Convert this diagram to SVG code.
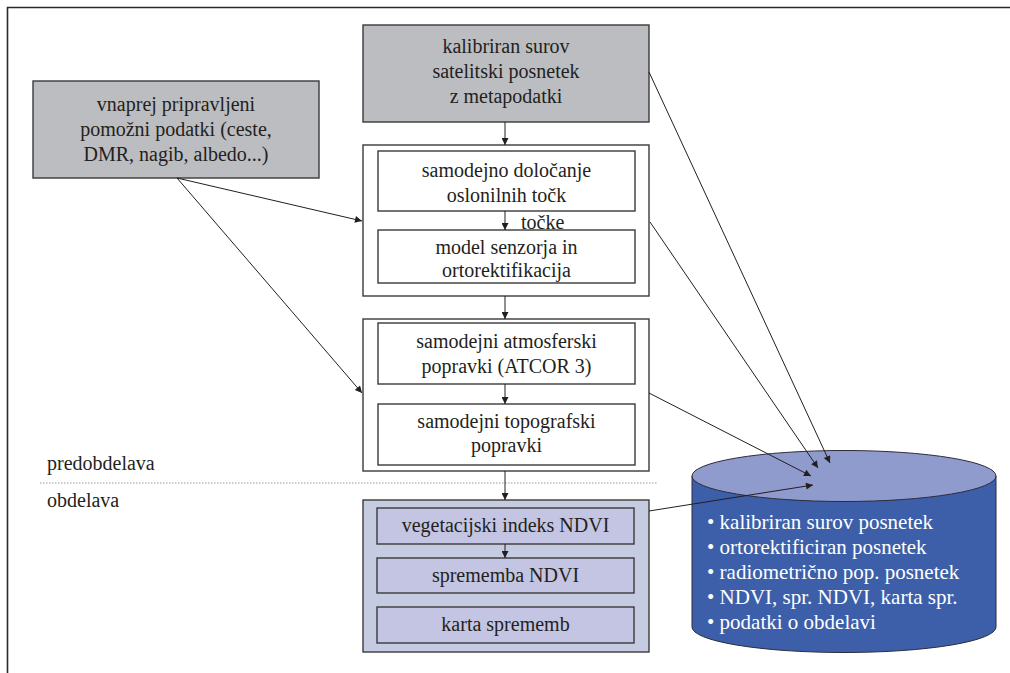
<svg xmlns="http://www.w3.org/2000/svg" width="1010" height="673" viewBox="0 0 1010 673" font-family="'Liberation Serif', 'DejaVu Serif', serif">
<style>
text{font-family:'Liberation Serif','DejaVu Serif',serif}
.t{font-size:20px;fill:#231f20;text-anchor:middle}
.l{text-anchor:start}
.w{fill:#ffffff;text-anchor:start;font-size:21px}
.gray{fill:#bcbdc0;stroke:#3a3a3a;stroke-width:1.4}
.white{fill:#ffffff;stroke:#3a3a3a;stroke-width:1.4}
.blo{fill:#c5cbe0;stroke:#3a3a3a;stroke-width:1.4}
.bli{fill:#c4c5e3;stroke:#3a3a3a;stroke-width:1.4}
.c{stroke:#231f20;stroke-width:1;fill:none;marker-end:url(#ah)}
</style>
<defs>
<marker id="ah" viewBox="0 0 10 10" refX="10" refY="5" markerWidth="9" markerHeight="7" markerUnits="userSpaceOnUse" orient="auto">
<path d="M0,0 L10,5 L0,10 Z" fill="#231f20"/>
</marker>
</defs>
<rect width="1010" height="673" fill="#ffffff"/>
<path d="M7.5,673 L7.5,7.5 L1010,7.5" fill="none" stroke="#2a2a2a" stroke-width="1.6"/>
<line x1="40" y1="483" x2="657" y2="483" stroke="#9a9a9a" stroke-width="1.2" stroke-dasharray="1.5,1.5"/>
<text class="t l" x="47" y="470">predobdelava</text>
<text class="t l" x="47" y="507">obdelava</text>

<g id="satelitski">
<rect class="gray" x="363" y="25" width="286" height="97"/>
<text class="t" x="506" y="53">kalibriran surov</text>
<text class="t" x="506" y="78">satelitski posnetek</text>
<text class="t" x="506" y="103">z metapodatki</text>
</g>
<g id="pomozni">
<rect class="gray" x="33" y="81" width="286" height="97"/>
<text class="t" x="176" y="111">vnaprej pripravljeni</text>
<text class="t" x="176" y="136">pomožni podatki (ceste,</text>
<text class="t" x="176" y="161">DMR, nagib, albedo...)</text>
</g>
<g id="geometrija">
<rect class="white" x="363" y="145" width="286" height="151"/>
<rect class="white" x="378" y="151" width="257" height="60"/>
<text class="t" x="506.5" y="177">samodejno določanje</text>
<text class="t" x="506.5" y="202">oslonilnih točk</text>
<rect class="white" x="378" y="230" width="257" height="53"/>
<text class="t" x="506.5" y="254">model senzorja in</text>
<text class="t" x="506.5" y="277">ortorektifikacija</text>
<text class="t l" x="521" y="229">točke</text>
</g>
<g id="radiometrija">
<rect class="white" x="363" y="319" width="286" height="152"/>
<rect class="white" x="378" y="323" width="257" height="61"/>
<text class="t" x="506.5" y="348">samodejni atmosferski</text>
<text class="t" x="506.5" y="373">popravki (ATCOR 3)</text>
<rect class="white" x="378" y="404" width="257" height="61"/>
<text class="t" x="506.5" y="428">samodejni topografski</text>
<text class="t" x="506.5" y="452">popravki</text>
</g>
<g id="obdelava">
<rect class="blo" x="363" y="500" width="286" height="152"/>
<rect class="bli" x="377" y="508" width="257" height="36"/>
<text class="t" x="505.5" y="532">vegetacijski indeks NDVI</text>
<rect class="bli" x="377" y="558" width="257" height="35"/>
<text class="t" x="505.5" y="582">sprememba NDVI</text>
<rect class="bli" x="377" y="607" width="257" height="36"/>
<text class="t" x="505.5" y="631">karta sprememb</text>
</g>
<g id="baza">
<path d="M692,476 L692,627 A152,25.5 0 0 0 996,627 L996,476 Z" fill="#3d5fa9" stroke="#2d2d3a" stroke-width="1"/>
<ellipse cx="844" cy="476" rx="152" ry="25.5" fill="#8f9bcc" stroke="#2d2d3a" stroke-width="1"/>
<text class="t w" x="707" y="529">• kalibriran surov posnetek</text>
<text class="t w" x="707" y="554">• ortorektificiran posnetek</text>
<text class="t w" x="707" y="579">• radiometrično pop. posnetek</text>
<text class="t w" x="707" y="604">• NDVI, spr. NDVI, karta spr.</text>
<text class="t w" x="707" y="629">• podatki o obdelavi</text>
</g>
<g id="connectors">
<line class="c" x1="505" y1="122" x2="505" y2="145"/>
<line class="c" x1="505" y1="211" x2="505" y2="230"/>
<line class="c" x1="505" y1="296" x2="505" y2="319"/>
<line class="c" x1="505" y1="384" x2="505" y2="404"/>
<line class="c" x1="505" y1="471" x2="505" y2="500"/>
<line class="c" x1="505" y1="544" x2="505" y2="558"/>
<line class="c" x1="177" y1="178" x2="362" y2="221"/>
<line class="c" x1="177" y1="178" x2="362" y2="393"/>
<line class="c" x1="649" y1="72" x2="830" y2="463"/>
<line class="c" x1="650" y1="222" x2="818" y2="468"/>
<line class="c" x1="649" y1="393" x2="811" y2="476"/>
<line class="c" x1="649" y1="511" x2="813" y2="485"/>
</g>
</svg>
